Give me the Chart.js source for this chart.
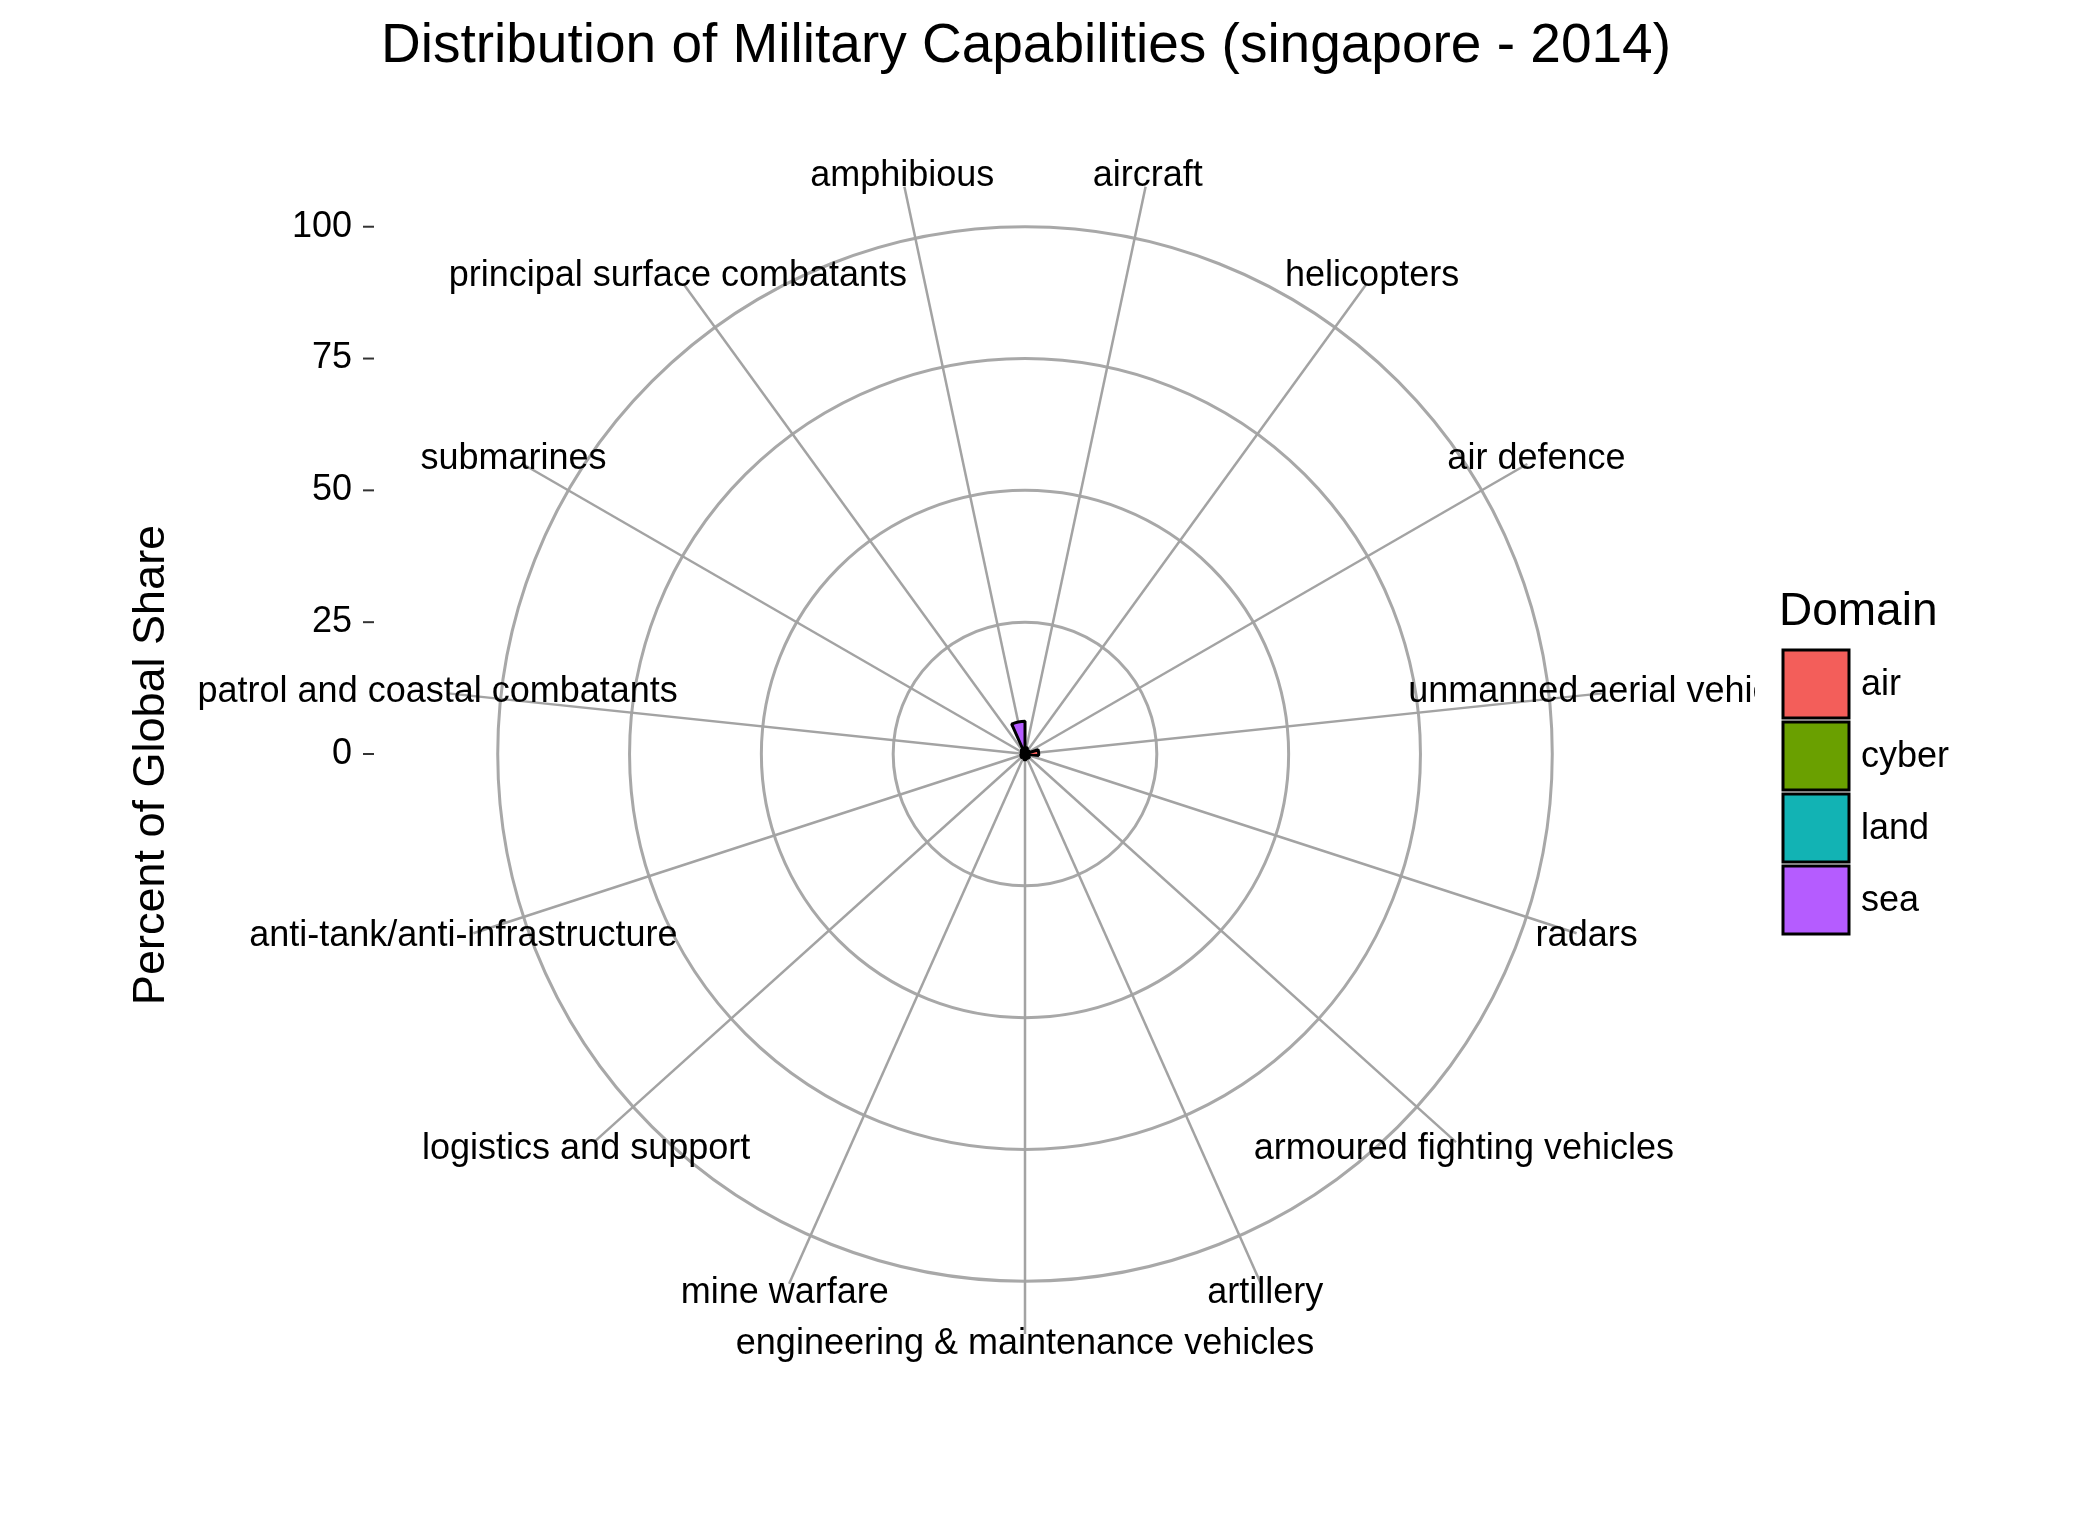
<!DOCTYPE html>
<html>
<head>
<meta charset="utf-8">
<script src="https://cdn.jsdelivr.net/npm/chart.js@4.4.0/dist/chart.umd.min.js"></script>
<style>
  html, body { margin: 0; padding: 0; background: #fff; }
  #wrap { position: relative; width: 2087px; height: 1516px; }
</style>
</head>
<body>
<div id="wrap"><canvas id="chart"></canvas></div>
<script>
// ── Data ────────────────────────────────────────────────────
const categories = [
  "aircraft", "helicopters", "air defence", "unmanned aerial vehicles", "radars",
  "armoured fighting vehicles", "artillery", "engineering & maintenance vehicles",
  "mine warfare", "logistics and support", "anti-tank/anti-infrastructure",
  "patrol and coastal combatants", "submarines", "principal surface combatants", "amphibious"
];
const domains = [
  "air", "air", "air", "air", "air",
  "land", "land", "land",
  "sea", "land", "land",
  "sea", "sea", "sea", "sea"
];
const shares = [1.2, 0.8, 0.9, 2.6, 0.7, 1.0, 0.9, 1.1, 0.6, 0.9, 0.8, 0.7, 0.8, 1.0, 6.2];
const yTicks = [0, 25, 50, 75, 100];
const legendDomains = ["air", "cyber", "land", "sea"];
const domainColors = { air: "#F35E5A", cyber: "#6AA000", land: "#12B3B4", sea: "#B55CFF" };

const FONT = "'Liberation Sans', Arial, sans-serif";

// ── Overlay: spokes, labels, axis, legend ───────────────────
const overlay = {
  id: "overlay",
  beforeDatasetsDraw(chart) {
    const ctx = chart.ctx;
    const s = chart.scales.r;
    const n = categories.length;
    const rEnd = s.getDistanceFromCenterForValue(110);
    ctx.save();
    ctx.strokeStyle = "#a3a3a3";
    ctx.lineWidth = 2.5;
    for (let i = 0; i < n; i++) {
      const a = s.getIndexAngle(i) + Math.PI / n - Math.PI / 2;
      ctx.beginPath();
      ctx.moveTo(s.xCenter, s.yCenter);
      ctx.lineTo(s.xCenter + rEnd * Math.cos(a), s.yCenter + rEnd * Math.sin(a));
      ctx.stroke();
    }
    ctx.restore();
  },
  afterDraw(chart) {
    const ctx = chart.ctx;
    const s = chart.scales.r;
    const n = categories.length;
    const rLab = s.getDistanceFromCenterForValue(112);
    ctx.save();
    ctx.beginPath();
    ctx.rect(0, 0, 1755, 1516);
    ctx.clip();
    ctx.fillStyle = "#000";
    ctx.font = "36px " + FONT;
    ctx.textAlign = "center";
    ctx.textBaseline = "middle";
    categories.forEach((c, i) => {
      const a = s.getIndexAngle(i) + Math.PI / n - Math.PI / 2;
      ctx.fillText(c, s.xCenter + rLab * Math.cos(a), s.yCenter + rLab * Math.sin(a));
    });
    ctx.restore();

    ctx.save();
    // y axis ticks on the left
    ctx.font = "36px " + FONT;
    ctx.textAlign = "right";
    ctx.textBaseline = "middle";
    ctx.fillStyle = "#000";
    ctx.strokeStyle = "#333";
    ctx.lineWidth = 2;
    yTicks.forEach((t) => {
      const y = s.yCenter - s.getDistanceFromCenterForValue(t);
      ctx.fillText(String(t), 352, y);
      ctx.beginPath();
      ctx.moveTo(363, y);
      ctx.lineTo(374, y);
      ctx.stroke();
    });
    // y axis title
    ctx.save();
    ctx.translate(152, 765);
    ctx.rotate(-Math.PI / 2);
    ctx.textAlign = "center";
    ctx.font = "45px " + FONT;
    ctx.fillText("Percent of Global Share", 0, 0);
    ctx.restore();
    // title
    ctx.textAlign = "center";
    ctx.font = "55px " + FONT;
    ctx.fillText("Distribution of Military Capabilities (singapore - 2014)", 1026, 47);
    // legend
    ctx.textAlign = "left";
    ctx.font = "46px " + FONT;
    ctx.fillText("Domain", 1779, 612);
    ctx.font = "36px " + FONT;
    legendDomains.forEach((d, i) => {
      const y = 650 + i * 72;
      ctx.fillStyle = domainColors[d];
      ctx.fillRect(1783, y, 66, 68);
      ctx.strokeStyle = "#000";
      ctx.lineWidth = 3;
      ctx.strokeRect(1783, y, 66, 68);
      ctx.fillStyle = "#000";
      ctx.fillText(d, 1861, y + 35);
    });
    ctx.restore();
  }
};

new Chart(document.getElementById("chart"), {
  type: "polarArea",
  data: {
    labels: categories,
    datasets: [{
      data: shares,
      backgroundColor: domains.map((d) => domainColors[d]),
      borderColor: "#000",
      borderWidth: 3
    }]
  },
  options: {
    responsive: true,
    maintainAspectRatio: false,
    animation: false,
    startAngle: 0,
    layout: { padding: { left: 445, right: 482, top: 174, bottom: 182 } },
    plugins: { legend: { display: false }, tooltip: { enabled: false } },
    scales: {
      r: {
        min: 0,
        max: 110,
        ticks: { display: false, stepSize: 25 },
        pointLabels: { display: false },
        angleLines: { display: false },
        grid: {
          color: (c) => (c.tick && c.tick.value > 100 ? "rgba(0,0,0,0)" : "#a8a8a8"),
          lineWidth: 3
        }
      }
    }
  },
  plugins: [overlay]
});
</script>
</body>
</html>
